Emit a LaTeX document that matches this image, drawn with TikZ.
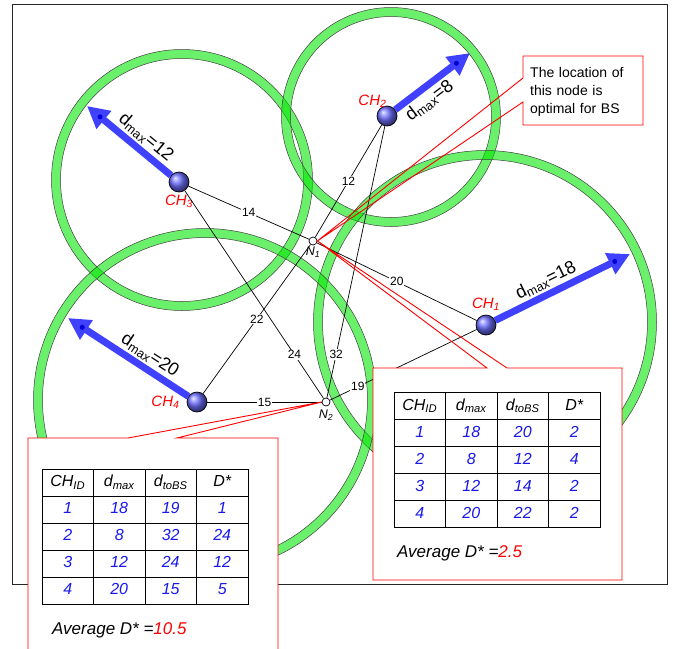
\documentclass[tikz,border=0pt]{standalone}
\usepackage{fontspec}
\setmainfont{Liberation Sans}
\usetikzlibrary{arrows.meta, calc, matrix}
\definecolor{ringgreen}{RGB}{0, 230, 0}
\definecolor{dmaxblue}{RGB}{64, 64, 255}
\definecolor{dotblue}{RGB}{0, 0, 210}
\definecolor{tabblue}{RGB}{25, 25, 235}
\definecolor{calloutred}{RGB}{255, 0, 0}
\definecolor{ballblue}{RGB}{110, 110, 255}

\tikzset{
  ringfill/.style={fill=ringgreen, fill opacity=0.58, even odd rule},
  ringedge/.style={draw=black!75, line width=0.5pt},
  chnode/.style={circle, draw=black, line width=0.7pt, shading=ball,
    ball color=ballblue, minimum size=20pt, inner sep=0pt},
  nnode/.style={circle, draw=black, line width=0.7pt, fill=white,
    minimum size=8pt, inner sep=0pt},
  chlab/.style={text=calloutred, font=\fontsize{15}{15}\selectfont\itshape, inner sep=1pt},
  nlab/.style={font=\fontsize{12.5}{12.5}\selectfont\itshape, inner sep=1pt},
  link/.style={draw=black, line width=0.7pt},
  dist/.style={fill=white, inner sep=1pt, font=\fontsize{12}{12}\selectfont},
  dmax/.style={draw=dmaxblue, line width=7pt, -{Triangle[length=22pt, width=22pt]}},
  dmaxlab/.style={font=\fontsize{18}{18}\selectfont, inner sep=5.5pt},
  callout/.style={draw=calloutred, line width=0.9pt},
  dtable/.style={matrix of nodes, column sep=-0.9pt, row sep=-0.9pt,
    nodes={draw, line width=0.9pt, minimum width=51.5pt, minimum height=27pt,
      anchor=center, text height=12pt, text depth=4pt, inner sep=0pt,
      text=tabblue, font=\fontsize{16}{16}\selectfont\itshape},
    row 1/.style={nodes={text=black}}},
  avg/.style={font=\fontsize{17}{17}\selectfont\itshape, inner sep=0pt, anchor=base west},
  bsnote/.style={text width=105pt, align=left, inner sep=0pt,
    font=\fontsize{14}{18}\selectfont},
}

\begin{document}
\begin{tikzpicture}[x=1pt, y=-1pt]
\useasboundingbox (0,0) rectangle (687,648);
% frame
\draw[line width=1pt, black!85] (12,4) rectangle (667,584);

% coverage rings of the cluster heads
\foreach \cx/\cy/\r in {182/180/126, 391/117/105, 485/322/167, 205/400/167} {
  \fill[ringfill] (\cx,\cy) circle [radius=\r pt+4.5pt] circle [radius=\r pt-4.5pt];
  \draw[ringedge] (\cx,\cy) circle [radius=\r pt+4.5pt] circle [radius=\r pt-4.5pt];
}

% cluster heads and candidate nodes
\node[chnode, label={[chlab, label distance=1pt]below:CH\textsubscript{3}}] (ch3) at (179,182) {};
\node[chnode, label={[chlab, xshift=8pt]above left:CH\textsubscript{2}}] (ch2) at (387,116) {};
\node[chnode, label={[chlab, label distance=3pt]above:CH\textsubscript{1}}] (ch1) at (486,325) {};
\node[chnode, label={[chlab, label distance=6pt]left:CH\textsubscript{4}}] (ch4) at (197,402) {};
\node[nnode, label={[nlab]below:N\textsubscript{1}}] (n1) at (313,241) {};
\node[nnode, label={[nlab, label distance=2pt]below:N\textsubscript{2}}] (n2) at (326,402) {};

% distances to N1 and N2
\draw[link] (ch3) -- node[dist, pos=.5] {14} (n1);
\draw[link] (ch2) -- node[dist, pos=.5] {12} (n1);
\draw[link] (ch1) -- node[dist, pos=.5] {20} (n1);
\draw[link] (ch4) -- node[dist, pos=.5] {22} (n1);
\draw[link] (ch3) -- node[dist, pos=.79] {24} (n2);
\draw[link] (ch2) -- node[dist, pos=.84] {32} (n2);
\draw[link] (ch1) -- node[dist, pos=.81] {19} (n2);
\draw[link] (ch4) -- node[dist, pos=.5] {15} (n2);

% dmax arrows
\coordinate (tip1) at (630,254);
\coordinate (tip2) at (470,53);
\coordinate (tip3) at (87,106);
\coordinate (tip4) at (68,318);
\foreach \c in {1,...,4} {
  \draw[dmax] (ch\c) -- (tip\c);
  \fill[dotblue] ($(tip\c)!17pt!(ch\c)$) circle [radius=2.5pt];
}
\path (ch1) -- (tip1) node[dmaxlab, sloped, above, pos=.42] {d\textsubscript{max}=18};
\path (ch2) -- (tip2) node[dmaxlab, sloped, below, pos=.35] {d\textsubscript{max}=8};
\path (tip3) -- (ch3) node[dmaxlab, sloped, above, pos=.6] {d\textsubscript{max}=12};
\path (tip4) -- (ch4) node[dmaxlab, sloped, above, pos=.62] {d\textsubscript{max}=20};

% callout for N1
\fill[white] (373,368) rectangle (622,580);
\draw[callout] (487,368) -- (n1.east) -- (507,368) -- (622,368) -- (622,580)
  -- (373,580) -- (373,368) -- cycle;
\matrix (tabR) [dtable] at (497,460) {
  CH\textsubscript{ID} & d\textsubscript{max} & d\textsubscript{toBS} & D* \\
  1 & 18 & 20 & 2 \\
  2 & 8 & 12 & 4 \\
  3 & 12 & 14 & 2 \\
  4 & 20 & 22 & 2 \\
};
\node[avg] (avgR) at (397,557) {Average D* =\textcolor{calloutred}{2.5}};

% callout for N2
\fill[white] (28,438) rectangle (278,660);
\draw[callout] (128,438) -- (n2.west) -- (177,438) -- (278,438) -- (278,660)
  -- (28,660) -- (28,438) -- cycle;
\matrix (tabL) [dtable] at (145,536.5) {
  CH\textsubscript{ID} & d\textsubscript{max} & d\textsubscript{toBS} & D* \\
  1 & 18 & 19 & 1 \\
  2 & 8 & 32 & 24 \\
  3 & 12 & 24 & 12 \\
  4 & 20 & 15 & 5 \\
};
\node[avg] (avgL) at (52,634) {Average D* =\textcolor{calloutred}{10.5}};

% note on the BS location
\fill[white] (523,56) rectangle (643,125);
\draw[callout] (523,78) -- (n1.east) -- (523,102) -- (523,125) -- (643,125)
  -- (643,56) -- (523,56) -- cycle;
\node[bsnote, anchor=north west] (bs) at (530,67) {%
  \makebox[105pt][s]{The location of}\\
  \makebox[105pt][s]{this node is}\\
  optimal for BS};
\end{tikzpicture}
\end{document}
